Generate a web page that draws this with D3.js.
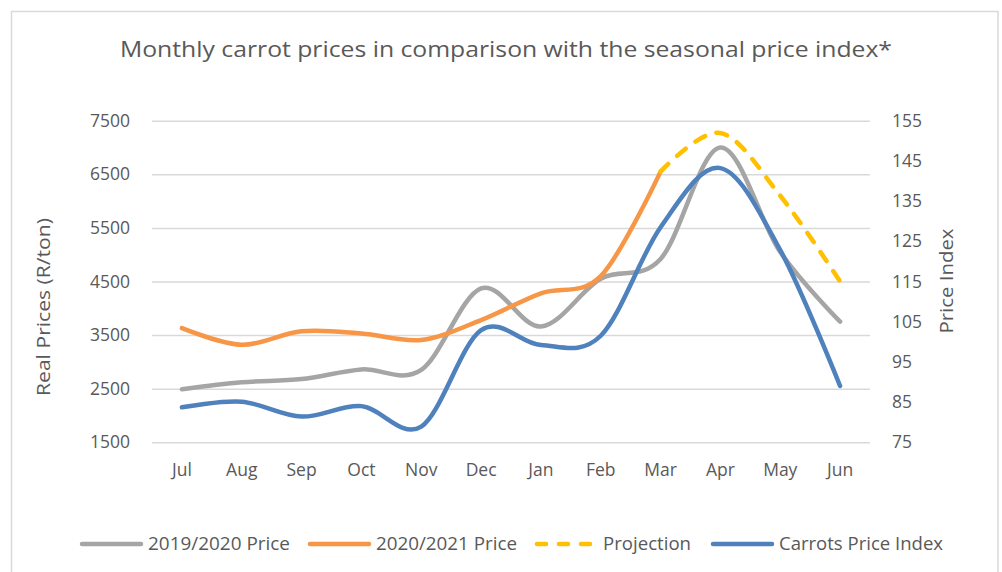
<!DOCTYPE html>
<html>
<head>
<meta charset="utf-8">
<script src="https://cdn.jsdelivr.net/npm/d3@7"></script>
<style>
  body { margin: 0; background: #fff; }
  text { font-family: "Open Sans", sans-serif; fill: #595959; }
</style>
</head>
<body>
<div id="chart"></div>
<script>
const months = ["Jul", "Aug", "Sep", "Oct", "Nov", "Dec", "Jan", "Feb", "Mar", "Apr", "May", "Jun"]
const price1920 = [2490, 2620, 2680, 2860, 2850, 4370, 3660, 4550, 4920, 7000, 5050, 3750]
const price2021 = [3630, 3320, 3570, 3530, 3410, 3780, 4280, 4600, 6550, null, null, null]
const projection = [null, null, null, null, null, null, null, null, 6550, 7270, 6100, 4500]
const priceIndex = [83.7, 85.1, 81.4, 84, 78.9, 102.9, 99.2, 101.5, 128.5, 143.2, 122.8, 89]
const leftTicks = [1500, 2500, 3500, 4500, 5500, 6500, 7500]
const rightTicks = [75, 85, 95, 105, 115, 125, 135, 145, 155]

const width = 1002
const height = 572
const plot = {left: 152, right: 870, top: 120.7, bottom: 442.3}

const svg = d3.select("#chart").append("svg")
  .attr("width", width)
  .attr("height", height)

// frame
svg.append("rect")
  .attr("x", 11.5).attr("y", 11.5)
  .attr("width", 986.5).attr("height", 580)
  .attr("fill", "#fff")
  .attr("stroke", "#d9d9d9")
  .attr("stroke-width", 1.5)

svg.append("text")
  .attr("x", 506).attr("y", 57)
  .attr("text-anchor", "middle")
  .attr("textLength", 772)
  .attr("lengthAdjust", "spacingAndGlyphs")
  .style("font-size", "21px")
  .text("Monthly carrot prices in comparison with the seasonal price index*")

const x = d3.scaleBand().domain(months).range([plot.left, plot.right])
const yL = d3.scaleLinear().domain([1500, 7500]).range([plot.bottom, plot.top])
const yR = d3.scaleLinear().domain([75, 155]).range([plot.bottom, plot.top])
const cx = (i) => x(months[i]) + x.bandwidth() / 2

//grid
svg.append("g")
  .attr("class", "grid")
  .attr("transform", "translate(" + plot.left + ",0)")
  .call(d3.axisLeft(yL).tickValues(leftTicks)
    .tickSize(-(plot.right - plot.left)).tickSizeOuter(0).tickFormat(""))
  .call(g => g.select(".domain").remove())
  .call(g => g.selectAll("line").attr("stroke", "#d9d9d9").attr("stroke-width", 1.5))

// left axis labels
svg.append("g")
  .attr("transform", "translate(" + (plot.left - 19) + ",0)")
  .call(d3.axisLeft(yL).tickValues(leftTicks).tickSize(0).tickFormat(d => d))
  .call(g => g.select(".domain").remove())
  .call(g => g.selectAll("text").attr("fill", "#595959").style("font-size", "17.5px").style("font-family", "Open Sans"))

// right axis labels
svg.append("g")
  .attr("transform", "translate(" + (plot.right + 22) + ",0)")
  .call(d3.axisRight(yR).tickValues(rightTicks).tickSize(0).tickFormat(d => d))
  .call(g => g.select(".domain").remove())
  .call(g => g.selectAll("text").attr("fill", "#595959").attr("x", 0).style("font-size", "17.5px").style("font-family", "Open Sans"))

// x labels
svg.append("g")
  .attr("transform", "translate(0," + (plot.bottom + 28) + ")")
  .call(d3.axisBottom(x).tickSize(0))
  .call(g => g.select(".domain").remove())
  .call(g => g.selectAll("text").attr("fill", "#595959").attr("y", 0).attr("dy", "0.32em").style("font-size", "17.5px").style("font-family", "Open Sans"))

svg.append("text")
  .attr("transform", "translate(50,307) rotate(-90)")
  .attr("text-anchor", "middle")
  .attr("textLength", 178)
  .attr("lengthAdjust", "spacingAndGlyphs")
  .style("font-size", "19px")
  .text("Real Prices (R/ton)")

svg.append("text")
  .attr("transform", "translate(953,281) rotate(-90)")
  .attr("text-anchor", "middle")
  .attr("textLength", 105)
  .attr("lengthAdjust", "spacingAndGlyphs")
  .style("font-size", "19px")
  .text("Price Index")

const curve = d3.curveCatmullRom.alpha(0)

const lineL = d3.line()
  .defined(d => d != null)
  .x((d, i) => cx(i))
  .y(d => yL(d))
  .curve(curve)

const lineR = d3.line()
  .defined(d => d != null)
  .x((d, i) => cx(i))
  .y(d => yR(d))
  .curve(curve)

const series = [
  {name: "2019/2020 Price", data: price1920, line: lineL, color: "#a5a5a5", dash: null},
  {name: "2020/2021 Price", data: price2021, line: lineL, color: "#f79646", dash: null},
  {name: "Projection", data: projection, line: lineL, color: "#ffc000", dash: "11,12"},
  {name: "Carrots Price Index", data: priceIndex, line: lineR, color: "#4f81bd", dash: null}
]

svg.append("g").selectAll("path")
  .data(series)
  .enter()
  .append("path")
  .attr("d", d => d.line(d.data))
  .attr("fill", "none")
  .attr("stroke", d => d.color)
  .attr("stroke-width", 4.5)
  .attr("stroke-linecap", "round")
  .attr("stroke-linejoin", "round")
  .attr("stroke-dasharray", d => d.dash)

// legend
const legendX = [80, 308, 535, 711]
const legendTextW = [142, 141, 88, 164]
const legend = svg.append("g")
  .selectAll("g")
  .data(series)
  .enter()
  .append("g")
  .attr("transform", (d, i) => "translate(" + legendX[i] + ",544)")

legend.append("line")
  .attr("x1", 2).attr("x2", 61)
  .attr("stroke", d => d.color)
  .attr("stroke-width", 4.5)
  .attr("stroke-linecap", "round")
  .attr("stroke-dasharray", d => d.dash ? "9,13" : null)

legend.append("text")
  .attr("x", 68)
  .attr("dy", "0.35em")
  .attr("textLength", (d, i) => legendTextW[i])
  .attr("lengthAdjust", "spacingAndGlyphs")
  .style("font-size", "18px")
  .text(d => d.name)
</script>
</body>
</html>
